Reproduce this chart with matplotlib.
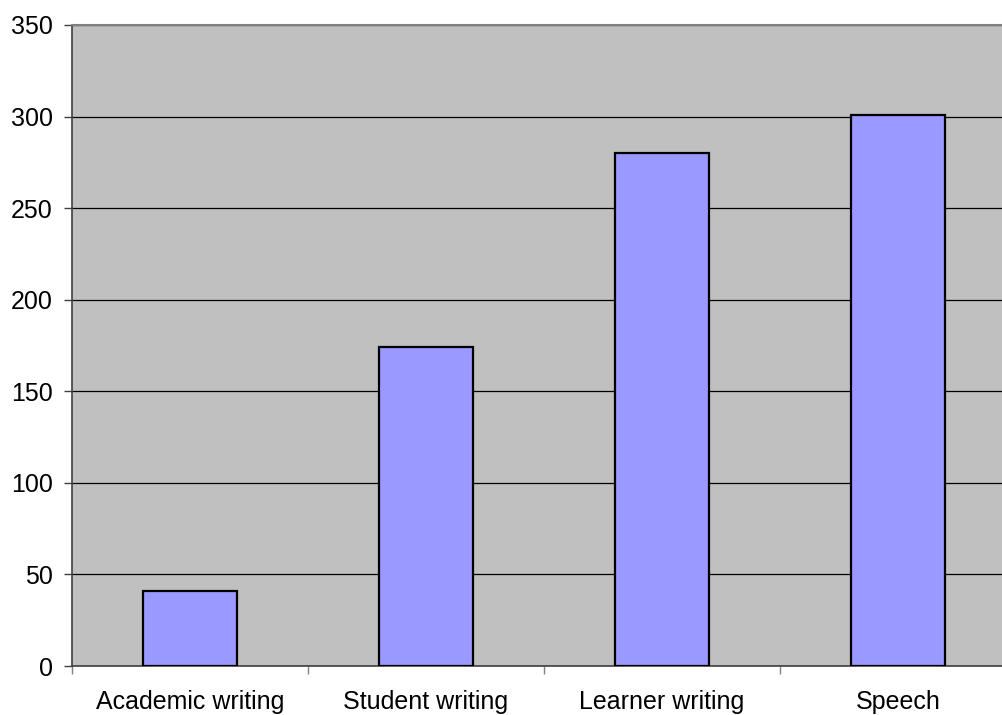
import matplotlib
matplotlib.use("Agg")
import matplotlib.pyplot as plt
import numpy as np

categories = ["Academic writing", "Student writing", "Learner writing", "Speech"]
values = [41, 174, 280, 301]
yticks = [0, 50, 100, 150, 200, 250, 300, 350]

plt.rcParams['font.family'] = ['Liberation Sans', 'DejaVu Sans']

fig = plt.figure(figsize=(10.03, 7.15), dpi=100)
ax = fig.add_axes([72/1003, 49/715, 944/1003, 641/715])
ax.set_facecolor("#c0c0c0")

x = np.arange(len(categories))
ax.bar(x, values, width=0.4, color="#9999ff", edgecolor="black", linewidth=1.6, zorder=3)

ax.set_xlim(-0.5, len(categories) - 0.5)
ax.set_ylim(0, 350)
ax.set_yticks(yticks)
ax.yaxis.grid(True, color="black", linewidth=0.9, zorder=1)
ax.set_axisbelow(True)

ax.set_xticks(x)
ax.set_xticklabels(categories, fontsize=18)
ax.tick_params(axis="x", which="major", length=0, pad=17.5)
ax.set_xticks(np.arange(len(categories) + 1) - 0.5, minor=True)
ax.tick_params(axis="x", which="minor", length=6, width=1, color="#808080", direction="out")
ax.tick_params(axis="y", length=6, width=1, color="#404040", labelsize=18, pad=8)

ax.spines["top"].set_color("#808080")
ax.spines["top"].set_linewidth(1.5)
ax.spines["left"].set_color("#404040")
ax.spines["left"].set_linewidth(1.2)
ax.spines["bottom"].set_color("#404040")
ax.spines["bottom"].set_linewidth(1.2)
ax.spines["right"].set_visible(False)

fig.savefig("out.png", dpi=100)
